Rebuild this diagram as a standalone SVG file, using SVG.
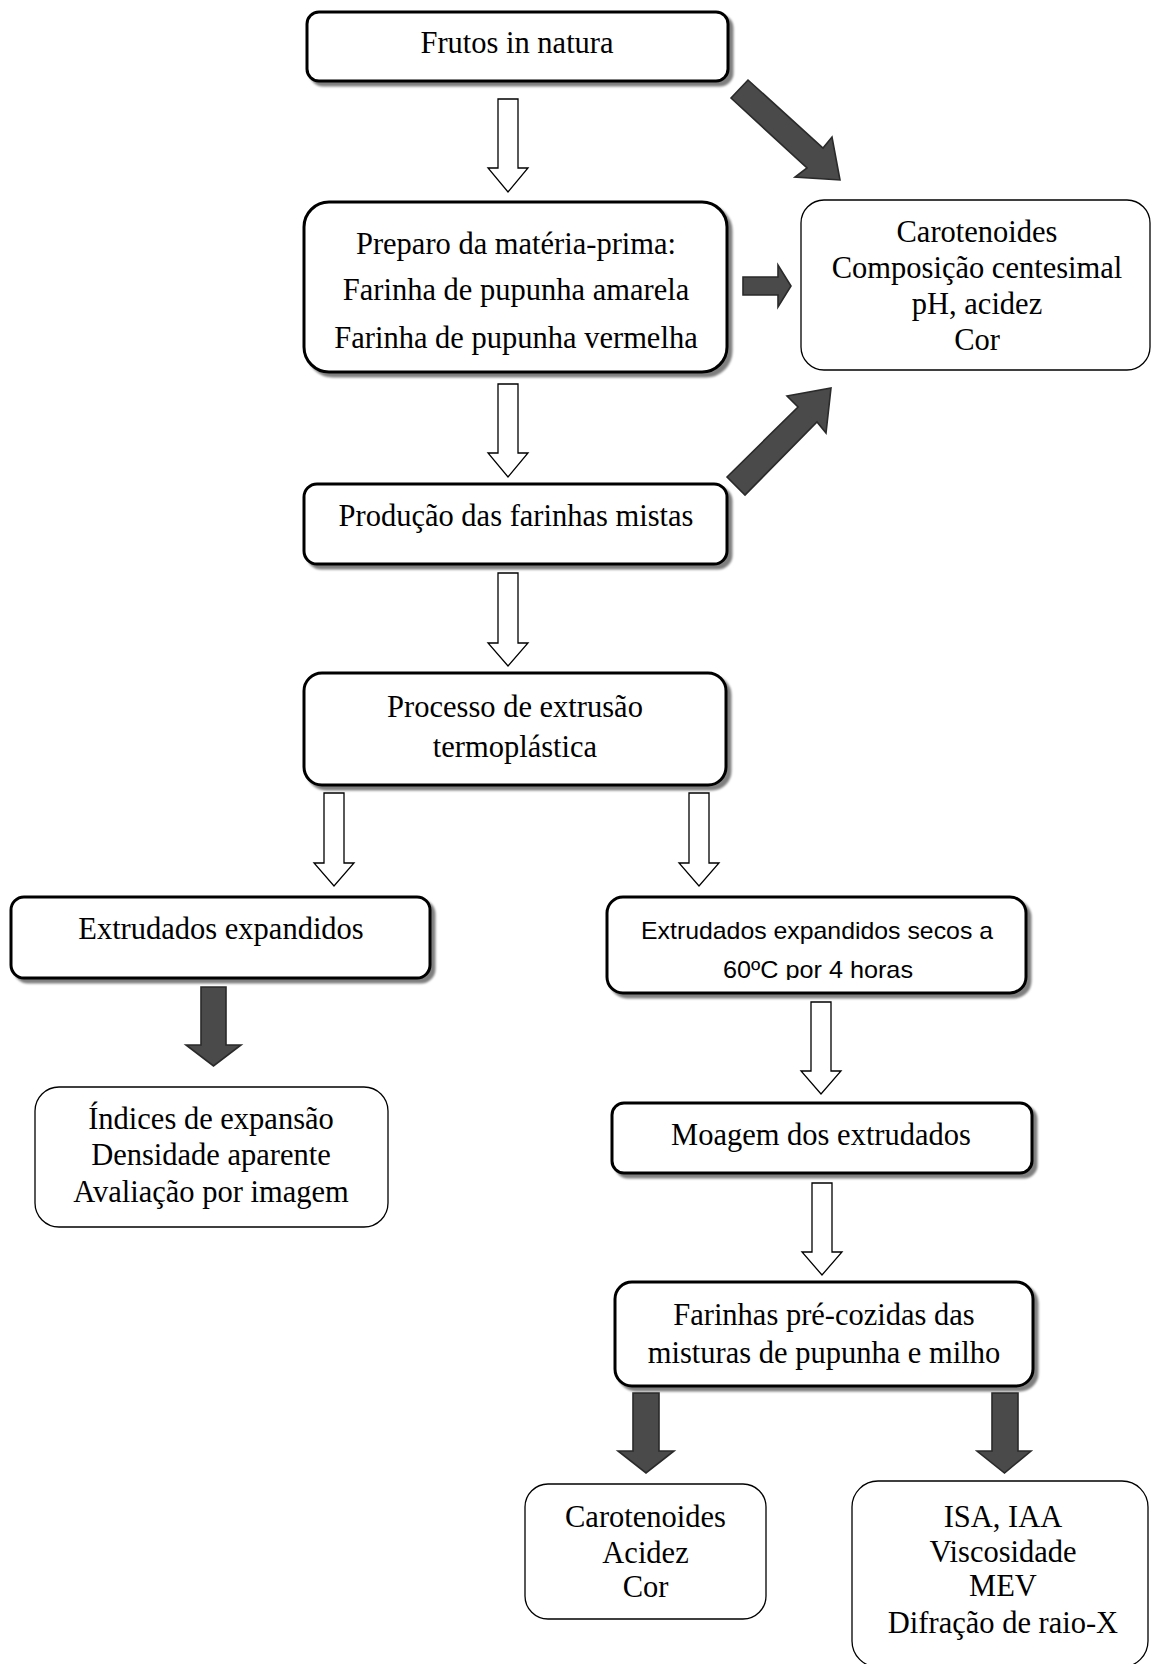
<svg xmlns="http://www.w3.org/2000/svg" width="1151" height="1664" viewBox="0 0 1151 1664">
<defs>
<filter id="sh" x="-5%" y="-10%" width="115%" height="130%">
<feDropShadow dx="4" dy="4" stdDeviation="0.8" flood-color="#000" flood-opacity="0.5"/>
</filter>
<clipPath id="clipSecos"><rect x="606" y="897" width="421" height="83"/></clipPath>
</defs>
<style>
.proc{fill:#fff;stroke:#000;stroke-width:3;filter:url(#sh)}
.res{fill:#fff;stroke:#000;stroke-width:1.3}
.t{font-family:"Liberation Serif","Times New Roman",serif;font-size:30.5px;fill:#000;text-anchor:middle}
.s{font-family:"Liberation Sans",Arial,sans-serif;font-size:24px;fill:#000;text-anchor:middle}
.ha{fill:#fff;stroke:#000;stroke-width:1.3;stroke-linejoin:miter}
.da{fill:#4a4a4a;stroke:#2a2a2a;stroke-width:1.6;stroke-linejoin:miter}
</style>
<rect width="1151" height="1664" fill="#fff"/>

<g id="connectors">
<polygon class="ha" points="498,99 518,99 518,168 528,168 508,192 488,168 498,168"/>
<polygon class="ha" points="498,384 518,384 518,453 528,453 508,477 488,453 498,453"/>
<polygon class="ha" points="498,573 518,573 518,643 528,643 508,666 488,643 498,643"/>
<polygon class="ha" points="324,793 344,793 344,863 354,863 334,886 314,863 324,863"/>
<polygon class="ha" points="689,793 709,793 709,863 719,863 699,886 679,863 689,863"/>
<polygon class="ha" points="811,1002 831,1002 831,1071 841,1071 821,1094 801,1071 811,1071"/>
<polygon class="ha" points="812,1183 832,1183 832,1252 842,1252 822,1275 802,1252 812,1252"/>
<polygon class="da" points="731,98 748,80 823,148 832,137 840,180 795,177 807,168"/>
<polygon class="da" points="743,277 778,277 778,265 791,286 778,307 778,295 743,295"/>
<polygon class="da" points="727,477 798,407 787,396 831,388 826,433 817,422 745,495"/>
<polygon class="da" points="201,987 226,987 226,1045 241,1045 213.5,1066 186,1045 201,1045"/>
<polygon class="da" points="633,1393 659,1393 659,1451 674,1451 646,1473 618,1451 633,1451"/>
<polygon class="da" points="992,1393 1018,1393 1018,1451 1031,1451 1004.5,1473 977,1451 992,1451"/>
</g>

<g id="frutos">
<rect class="proc" x="307" y="12" width="421" height="69" rx="12"/>
<text class="t" x="517" y="53">Frutos in natura</text>
</g>

<g id="preparo">
<rect class="proc" x="304" y="202" width="423" height="170" rx="25"/>
<text class="t" x="516" y="254">Preparo da matéria-prima:</text>
<text class="t" x="516" y="300">Farinha de pupunha amarela</text>
<text class="t" x="516" y="348">Farinha de pupunha vermelha</text>
</g>

<g id="analises-materia-prima">
<rect class="res" x="801" y="200" width="349" height="170" rx="23"/>
<text class="t" x="977" y="242">Carotenoides</text>
<text class="t" x="977" y="278">Composição centesimal</text>
<text class="t" x="977" y="314">pH, acidez</text>
<text class="t" x="977" y="350">Cor</text>
</g>

<g id="producao">
<rect class="proc" x="304" y="484" width="423" height="80" rx="13"/>
<text class="t" x="516" y="526">Produção das farinhas mistas</text>
</g>

<g id="processo">
<rect class="proc" x="304" y="673" width="422" height="112" rx="18"/>
<text class="t" x="515" y="717">Processo de extrusão</text>
<text class="t" x="515" y="757">termoplástica</text>
</g>

<g id="extrudados">
<rect class="proc" x="11" y="897" width="419" height="81" rx="13"/>
<text class="t" x="221" y="939">Extrudados expandidos</text>
</g>

<g id="extrudados-secos">
<rect class="proc" x="607" y="897" width="419" height="96" rx="16"/>
<g clip-path="url(#clipSecos)">
<text class="s" x="817" y="939" textLength="352" lengthAdjust="spacingAndGlyphs">Extrudados expandidos secos a</text>
<text class="s" x="818" y="978" textLength="190" lengthAdjust="spacingAndGlyphs">60ºC por 4 horas</text>
</g>
</g>

<g id="indices">
<rect class="res" x="35" y="1087" width="353" height="140" rx="24"/>
<text class="t" x="211" y="1129">Índices de expansão</text>
<text class="t" x="211" y="1165">Densidade aparente</text>
<text class="t" x="211" y="1202">Avaliação por imagem</text>
</g>

<g id="moagem">
<rect class="proc" x="612" y="1103" width="420" height="70" rx="12"/>
<text class="t" x="821" y="1145">Moagem dos extrudados</text>
</g>

<g id="farinhas-precozidas">
<rect class="proc" x="615" y="1282" width="418" height="104" rx="17"/>
<text class="t" x="824" y="1325">Farinhas pré-cozidas das</text>
<text class="t" x="824" y="1363">misturas de pupunha e milho</text>
</g>

<g id="analises-farinhas-1">
<rect class="res" x="525" y="1484" width="241" height="135" rx="23"/>
<text class="t" x="645.5" y="1527">Carotenoides</text>
<text class="t" x="645.5" y="1563">Acidez</text>
<text class="t" x="645.5" y="1597">Cor</text>
</g>

<g id="analises-farinhas-2">
<rect class="res" x="852" y="1481" width="296" height="186" rx="26"/>
<text class="t" x="1003" y="1527">ISA, IAA</text>
<text class="t" x="1003" y="1562">Viscosidade</text>
<text class="t" x="1003" y="1596">MEV</text>
<text class="t" x="1003" y="1633">Difração de raio-X</text>
</g>
</svg>
